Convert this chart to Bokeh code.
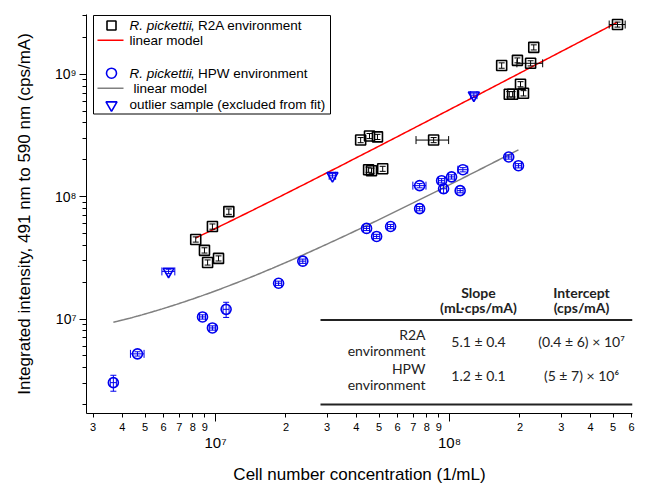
import numpy as np
from bokeh.plotting import figure
from bokeh.models import Range1d, LinearScale, LogAxis, FixedTicker
from bokeh.core.properties import value
from bokeh.embed import file_html
from bokeh.resources import INLINE

# ---------------- data ----------------
r2a_x = [5.22e8, 2.29e8, 1.95e8, 2.22e8, 1.67e8, 2.01e8, 1.80e8, 1.86e8, 2.07e8, 8.55e7,
         4.17e7, 4.55e7, 4.92e7, 4.51e7, 4.64e7, 5.18e7, 1.14e7, 9.7e6, 8.23e6, 8.97e6,
         9.25e6, 1.03e7]
r2a_y = [2.55e9, 1.66e9, 1.30e9, 1.23e9, 1.18e9, 8.3e8, 6.87e8, 6.87e8, 7.0e8, 2.9e8,
         2.9e8, 3.13e8, 3.08e8, 1.66e8, 1.63e8, 1.69e8, 7.55e7, 5.7e7, 4.47e7, 3.64e7,
         2.9e7, 3.13e7]
r2a_xerr = [4.1e7, 0, 0, 2.8e7, 0, 0, 0, 0, 0, 1.36e7,
            0, 0, 0, 0, 0, 0, 0, 0, 0, 0, 0, 0]
r2a_yerr = [1.2e8, 8e7, 6e7, 6e7, 6e7, 4e7, 3.5e7, 3.5e7, 3.5e7, 1.4e7,
            1.4e7, 1.5e7, 1.5e7, 8e6, 8e6, 8e6, 3.8e6, 2.8e6, 2.2e6, 1.8e6,
            1.4e6, 1.5e6]

hpw_x = [1.79e8, 1.97e8, 1.14e8, 1.02e8, 9.25e7, 9.43e7, 1.11e8, 7.45e7, 7.45e7, 4.42e7,
         4.88e7, 5.6e7, 1.86e7, 2.36e7, 1.11e7, 8.8e6, 9.7e6, 4.64e6, 3.66e6]
hpw_y = [2.11e8, 1.79e8, 1.66e8, 1.45e8, 1.35e8, 1.16e8, 1.12e8, 1.23e8, 7.98e7, 5.5e7,
         4.73e7, 5.7e7, 1.96e7, 2.97e7, 1.2e7, 1.04e7, 8.45e6, 5.19e6, 3.02e6]
hpw_xerr = [5.4e6, 5.9e6, 5.5e6, 3.1e6, 2.8e6, 2.8e6, 3.3e6, 4.8e6, 2.2e6, 1.3e6,
            1.5e6, 1.7e6, 5.6e5, 7.1e5, 3.3e5, 2.6e5, 2.9e5, 3.1e5, 1.1e5]
hpw_yerr = [8.4e6, 7.2e6, 6.6e6, 5.8e6, 5.4e6, 9.3e6, 4.5e6, 4.9e6, 3.2e6, 2.2e6,
            1.9e6, 2.3e6, 7.8e5, 1.2e6, 1.7e6, 4.2e5, 3.4e5, 2.1e5, 4.5e5]

out_x = [6.3e6, 3.16e7, 1.27e8]
out_y = [2.45e7, 1.48e8, 6.75e8]
out_xerr = [4.0e5, 1.0e6, 4.0e6]
out_yerr = [1.0e6, 6.0e6, 2.7e7]

# linear models (from the table)
r2a_slope, r2a_intercept = 5.1, 0.4e7
hpw_slope, hpw_intercept = 1.2, 5e6

x_minor_labels = [3e6, 4e6, 5e6, 6e6, 7e6, 8e6, 9e6,
                  2e7, 3e7, 4e7, 5e7, 6e7, 7e7, 8e7, 9e7,
                  2e8, 3e8, 4e8, 5e8, 6e8]
x_decades = [1e7, 1e8]
y_decades = [1e7, 1e8, 1e9]
y_minor = [2e6, 3e6, 4e6, 5e6, 6e6, 7e6, 8e6, 9e6,
           2e7, 3e7, 4e7, 5e7, 6e7, 7e7, 8e7, 9e7,
           2e8, 3e8, 4e8, 5e8, 6e8, 7e8, 8e8, 9e8, 2e9, 3e9]
sup = {7: "\u2077", 8: "\u2078", 9: "\u2079", 6: "\u2076"}

table_cols = ["Slope", "Intercept"]
table_units = ["(mL\u00b7cps/mA)", "(cps/mA)"]
table_rows = [("R2A", "environment"), ("HPW", "environment")]
table_slope = ["5.1 \u00b1 0.4", "1.2 \u00b1 0.1"]
table_intercept = ["(0.4 \u00b1 6) \u00d7 10\u2077", "(5 \u00b1 7) \u00d7 10\u2076"]

# ---------------- layout ----------------
W, H = 646, 486
FL, FR, FT, FB = 86, 632, 14, 415   # frame edges in page pixels
FW, FH = FR - FL, FB - FT

p = figure(width=W, height=H, x_axis_type="log", y_axis_type="log",
           x_range=Range1d(2.81e6, 6.05e8), y_range=Range1d(1.69e6, 3.08e9),
           output_backend="svg", toolbar_location=None,
           min_border_left=FL, min_border_right=W - FR,
           min_border_top=FT, min_border_bottom=H - FB)
p.outline_line_color = None
p.xgrid.visible = False
p.ygrid.visible = False
p.background_fill_color = "white"
p.border_fill_color = "white"

p.extra_x_ranges = {"px": Range1d(0, FW)}
p.extra_y_ranges = {"px": Range1d(0, FH)}
p.extra_x_scales = {"px": LinearScale()}
p.extra_y_scales = {"px": LinearScale()}

def sx(X):
    return X - FL

def sy(Y):
    return FB - Y

AX_FONT = value("Liberation Sans")

# x axis: labelled minor digits
xa = p.xaxis[0]
xa.ticker = FixedTicker(ticks=x_minor_labels, minor_ticks=x_decades)
xa.major_label_overrides = {int(v): str(int(round(v / 10 ** int(np.floor(np.log10(v) + 1e-9))))) for v in x_minor_labels}
xa.major_tick_in = 0
xa.major_tick_out = 4
xa.minor_tick_in = 0
xa.minor_tick_out = 8
xa.major_label_standoff = 1
xa.major_label_text_font = "Liberation Sans"
xa.major_label_text_font_size = "11px"
xa.major_label_text_color = "black"
xa.axis_line_color = "black"

# x axis: decade labels + title
xb = LogAxis(ticker=FixedTicker(ticks=x_decades, minor_ticks=[]))
xb.major_label_overrides = {int(v): "10" + sup[int(round(np.log10(v)))] for v in x_decades}
xb.axis_line_color = None
xb.major_tick_line_color = None
xb.minor_tick_line_color = None
xb.major_tick_in = 0
xb.major_tick_out = 0
xb.minor_tick_in = 0
xb.minor_tick_out = 0
xb.major_label_standoff = 0
xb.major_label_text_font = "Liberation Sans"
xb.major_label_text_font_size = "15px"
xb.major_label_text_color = "black"
xb.axis_label = "Cell number concentration (1/mL)"
xb.axis_label_text_font = "Liberation Sans"
xb.axis_label_text_font_size = "17px"
xb.axis_label_text_font_style = "normal"
xb.axis_label_text_color = "black"
xb.axis_label_standoff = 11
p.add_layout(xb, "below")

ya = p.yaxis[0]
ya.ticker = FixedTicker(ticks=y_decades, minor_ticks=y_minor)
ya.major_label_overrides = {int(v): "10" + sup[int(round(np.log10(v)))] for v in y_decades}
ya.major_tick_in = 0
ya.major_tick_out = 7
ya.minor_tick_in = 0
ya.minor_tick_out = 4
ya.major_label_standoff = 3
ya.major_label_orientation = "horizontal"
ya.major_label_text_font = "Liberation Sans"
ya.major_label_text_font_size = "14px"
ya.major_label_text_color = "black"
ya.axis_label = "Integrated intensity, 491 nm to 590 nm (cps/mA)"
ya.axis_label_text_font = "Liberation Sans"
ya.axis_label_text_font_size = "17px"
ya.axis_label_text_font_style = "normal"
ya.axis_label_text_color = "black"
ya.axis_label_standoff = 18
ya.axis_line_color = "black"

# ---------------- model lines ----------------
xr = np.geomspace(min(r2a_x), max(r2a_x), 200)
p.line(xr, r2a_slope * xr + r2a_intercept, line_color="#ff0000", line_width=1.5)
xh = np.geomspace(min(hpw_x), max(hpw_x), 200)
p.line(xh, hpw_slope * xh + hpw_intercept, line_color="#808080", line_width=1.5)

# ---------------- error bars + markers ----------------
def errorbars(xs, ys, xe, ye, color, cap=6):
    xs, ys, xe, ye = map(np.asarray, (xs, ys, xe, ye))
    m = ye > 0
    p.segment(xs[m], ys[m] - ye[m], xs[m], ys[m] + ye[m], line_color=color, line_width=1)
    p.scatter(np.r_[xs[m], xs[m]], np.r_[ys[m] - ye[m], ys[m] + ye[m]], marker="dash",
              size=cap, line_color=color, line_width=1)
    m = xe > 0
    p.segment(xs[m] - xe[m], ys[m], xs[m] + xe[m], ys[m], line_color=color, line_width=1)
    p.scatter(np.r_[xs[m] - xe[m], xs[m] + xe[m]], np.r_[ys[m], ys[m]], marker="dash",
              size=8, angle=np.pi / 2, line_color=color, line_width=1)

errorbars(r2a_x, r2a_y, r2a_xerr, r2a_yerr, "black", cap=6)
errorbars(hpw_x, hpw_y, hpw_xerr, hpw_yerr, "#0000ee", cap=6)
errorbars(out_x, out_y, out_xerr, out_yerr, "#0000ee", cap=6)

p.scatter(r2a_x, r2a_y, marker="square", size=10, line_color="black", line_width=1.6,
          fill_alpha=0)
p.scatter(hpw_x, hpw_y, marker="circle", size=10, line_color="#0000ee", line_width=1.6,
          fill_alpha=0)
p.scatter(out_x, out_y, marker="inverted_triangle", size=11, line_color="#0000ee",
          line_width=1.6, fill_alpha=0)

# ---------------- legend (drawn in frame pixels) ----------------
PX = dict(x_range_name="px", y_range_name="px")
p.quad(left=[sx(93)], right=[sx(330)], top=[sy(15)], bottom=[sy(114)],
       fill_color="white", line_color="black", line_width=1, **PX)
p.scatter([sx(111)], [sy(25)], marker="square", size=9, line_color="black",
          line_width=1.6, fill_alpha=0, **PX)
p.segment([sx(97)], [sy(40)], [sx(123)], [sy(40)], line_color="#ff0000", line_width=1.5, **PX)
p.scatter([sx(111)], [sy(73)], marker="circle", size=10, line_color="#0000ee",
          line_width=1.6, fill_alpha=0, **PX)
p.segment([sx(97)], [sy(88)], [sx(123)], [sy(88)], line_color="#808080", line_width=1.5, **PX)
p.scatter([sx(111)], [sy(105)], marker="inverted_triangle", size=11, line_color="#0000ee",
          line_width=1.6, fill_alpha=0, **PX)

LEG = dict(text_font=AX_FONT, text_font_size="13.5px", text_baseline="middle",
           text_align="left", text_color="black", **PX)
p.text([sx(129), sx(129)], [sy(25), sy(73)], text=["R. pickettii", "R. pickettii"],
       text_font_style="italic", **LEG)
p.text([sx(190), sx(190)], [sy(25), sy(73)],
       text=[", R2A environment", ", HPW environment"], **LEG)
p.text([sx(129), sx(133), sx(129)], [sy(40), sy(88), sy(104)],
       text=["linear model", "linear model", "outlier sample (excluded from fit)"], **LEG)

# ---------------- table ----------------
p.segment([sx(320), sx(320)], [sy(321), sy(406)], [sx(632), sx(632)], [sy(321), sy(406)],
          line_color="#222222", line_width=2, **PX)
TF = dict(text_font=value("Lato"), text_font_size="14px", text_baseline="middle",
          text_color="#222222", **PX)
p.text([sx(478), sx(581)], [sy(293), sy(293)], text=table_cols,
       text_align="center", text_font_style="bold", **TF)
p.text([sx(478), sx(581)], [sy(308), sy(308)], text=table_units,
       text_align="center", text_font_style="bold", **TF)
p.text([sx(425)] * 4, [sy(336), sy(352), sy(370), sy(386)],
       text=[table_rows[0][0], table_rows[0][1], table_rows[1][0], table_rows[1][1]],
       text_align="right", **TF)
p.text([sx(478), sx(478)], [sy(343), sy(377)], text=table_slope, text_align="center", **TF)
p.text([sx(581), sx(581)], [sy(343), sy(377)], text=table_intercept, text_align="center", **TF)

open("out.html", "w").write(file_html(p, INLINE))
